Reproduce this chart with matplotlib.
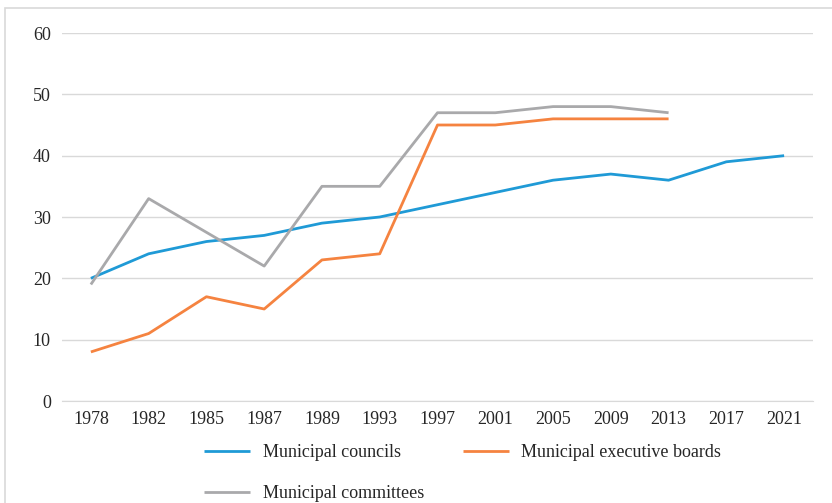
import matplotlib
matplotlib.use("Agg")
import matplotlib.pyplot as plt
from matplotlib.patches import Rectangle

years = ["1978", "1982", "1985", "1987", "1989", "1993", "1997", "2001", "2005", "2009", "2013", "2017", "2021"]
councils = [20, 24, 26, 27, 29, 30, 32, 34, 36, 37, 36, 39, 40]
exec_boards = [8, 11, 17, 15, 23, 24, 45, 45, 46, 46, 46]
committees = [19, 33, 27.5, 22, 35, 35, 47, 47, 48, 48, 47]
yticks = [0, 10, 20, 30, 40, 50, 60]

plt.rcParams['font.family'] = ['Liberation Serif', 'DejaVu Serif']
W, H = 832, 503
fig = plt.figure(figsize=(W / 100, H / 100), dpi=100)
fig.patches.append(Rectangle((5 / W, -0.1), 1.2, 1 - 8 / H + 0.1, transform=fig.transFigure,
                             fill=False, edgecolor='#D9D9D9', linewidth=1.2))

ax = fig.add_axes([62 / W, 1 - 401 / H, (813 - 62) / W, (401 - 33) / H])
x = list(range(len(years)))
blue = '#1F9AD6'
orange = '#F58340'
gray = '#A9A9AB'
l1, = ax.plot(x, councils, color=blue, lw=2.0, label='Municipal councils', solid_capstyle='butt')
l2, = ax.plot(x[:len(exec_boards)], exec_boards, color=orange, lw=2.0, label='Municipal executive boards', solid_capstyle='butt')
l3, = ax.plot(x[:len(committees)], committees, color=gray, lw=2.0, label='Municipal committees', solid_capstyle='butt')

ax.set_xlim(-0.5, len(years) - 0.5)
ax.set_ylim(0, 60)
ax.set_yticks(yticks)
ax.set_xticks(x)
ax.set_xticklabels(years)
ax.grid(axis='y', color='#D9D9D9', lw=1)
ax.set_axisbelow(True)
for s in ['top', 'right', 'left']:
    ax.spines[s].set_visible(False)
ax.spines['bottom'].set_color('#D9D9D9')
ax.tick_params(axis='both', length=0, labelsize=13, colors='#262626')
ax.tick_params(axis='y', pad=8)
ax.tick_params(axis='x', pad=7)

fig.legend(handles=[l1, l3, l2], ncol=2, loc='upper left',
           bbox_to_anchor=(204 / W, 1 - 444 / H), frameon=False, borderpad=0,
           borderaxespad=0, handlelength=2.55, handletextpad=0.7, columnspacing=2.15,
           labelspacing=1.32, fontsize=13, labelcolor='#262626')

fig.savefig('out.png', dpi=100)
